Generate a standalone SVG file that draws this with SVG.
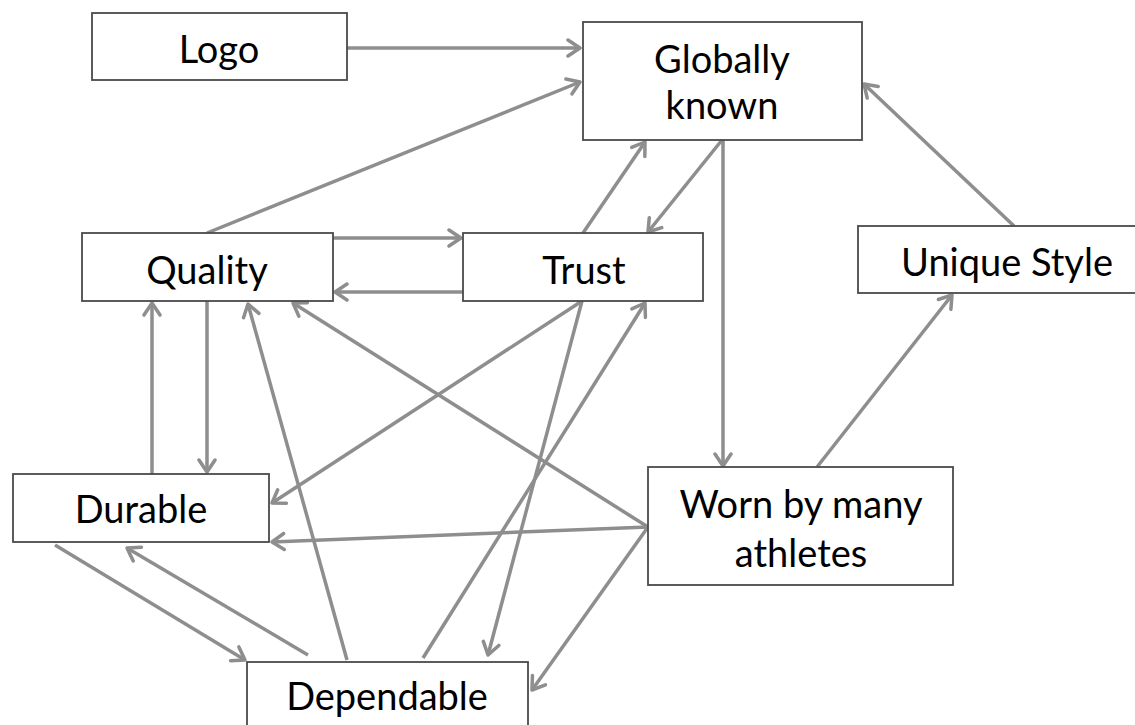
<svg xmlns="http://www.w3.org/2000/svg" width="1135" height="725" viewBox="0 0 1135 725">
<defs>
<style>
.box{fill:#fff;stroke:#4a4a4a;stroke-width:1.8}
.lbl{font-family:Lato,"Open Sans","Liberation Sans",sans-serif;font-size:38px;fill:#000;text-anchor:middle}
.edge{stroke:#8e8e8e;stroke-width:3.5;fill:none;marker-end:url(#arr)}
</style>
<marker id="arr" markerUnits="userSpaceOnUse" markerWidth="24" markerHeight="24" refX="15" refY="10" orient="auto">
<path d="M3,2 L15,10 L3,18" fill="none" stroke="#8e8e8e" stroke-width="3.5" stroke-linecap="round" stroke-linejoin="round"/>
</marker>
</defs>
<rect width="1135" height="725" fill="#fff"/>
<g id="connectors">
<line class="edge" x1="347" y1="48" x2="580" y2="48"/>
<line class="edge" x1="207" y1="233" x2="580" y2="82"/>
<line class="edge" x1="333" y1="238" x2="461" y2="238"/>
<line class="edge" x1="463" y1="292" x2="335" y2="292"/>
<line class="edge" x1="583" y1="233" x2="645" y2="142"/>
<line class="edge" x1="722" y1="140" x2="648" y2="232"/>
<line class="edge" x1="723" y1="140" x2="723" y2="466"/>
<line class="edge" x1="1014" y1="226" x2="864" y2="84"/>
<line class="edge" x1="817" y1="467" x2="952" y2="295"/>
<line class="edge" x1="152" y1="474" x2="152" y2="303"/>
<line class="edge" x1="207" y1="301" x2="207" y2="472"/>
<line class="edge" x1="347" y1="660" x2="248" y2="304"/>
<line class="edge" x1="648" y1="527" x2="293" y2="303"/>
<line class="edge" x1="582" y1="301" x2="272" y2="503"/>
<line class="edge" x1="582" y1="301" x2="488" y2="655"/>
<line class="edge" x1="423" y1="658" x2="645" y2="303"/>
<line class="edge" x1="648" y1="527" x2="272" y2="542"/>
<line class="edge" x1="648" y1="527" x2="532" y2="690"/>
<line class="edge" x1="55" y1="545" x2="245" y2="660"/>
<line class="edge" x1="308" y1="655" x2="127" y2="548"/>
</g>
<g id="logo"><rect class="box" x="92" y="13" width="255" height="67"/><text class="lbl" x="219" y="63">Logo</text></g>
<g id="globally-known"><rect class="box" x="583" y="22" width="279" height="118"/><text class="lbl" x="722" y="73">Globally</text><text class="lbl" x="722" y="119">known</text></g>
<g id="unique-style"><rect class="box" x="858" y="226" width="290" height="67"/><text class="lbl" x="1007" y="276">Unique Style</text></g>
<g id="quality"><rect class="box" x="82" y="233" width="251" height="68"/><text class="lbl" x="207" y="284">Quality</text></g>
<g id="trust"><rect class="box" x="463" y="233" width="240" height="68"/><text class="lbl" x="584" y="284">Trust</text></g>
<g id="durable"><rect class="box" x="13" y="474" width="256" height="68"/><text class="lbl" x="141" y="523">Durable</text></g>
<g id="worn"><rect class="box" x="648" y="467" width="305" height="118"/><text class="lbl" x="801" y="518">Worn by many</text><text class="lbl" x="801" y="567">athletes</text></g>
<g id="dependable"><rect class="box" x="247" y="662" width="281" height="80"/><text class="lbl" x="387" y="710">Dependable</text></g>
</svg>
